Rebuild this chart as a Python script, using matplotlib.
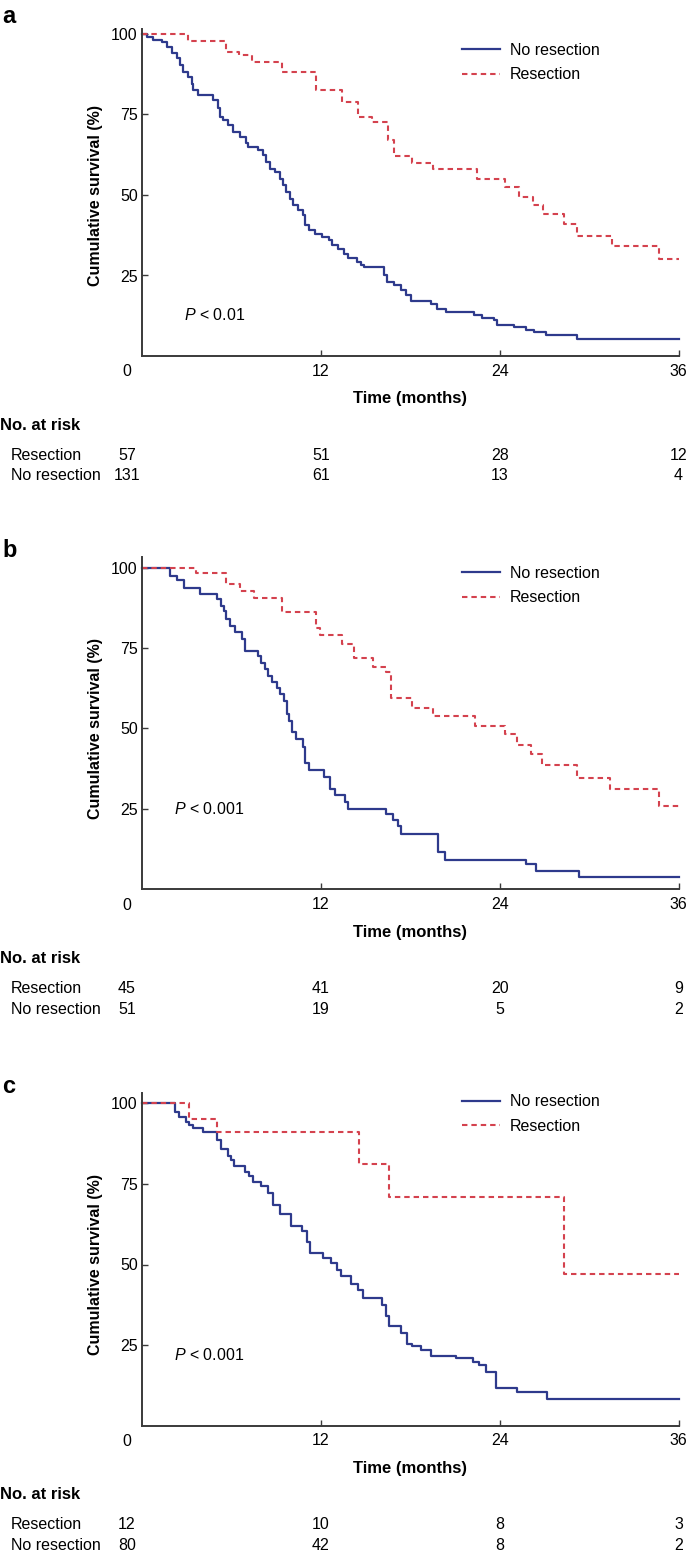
import matplotlib
matplotlib.use("Agg")
import matplotlib.pyplot as plt

plt.rcParams['font.family'] = ['Liberation Sans', 'DejaVu Sans']
plt.rcParams['mathtext.fontset'] = 'custom'
plt.rcParams['mathtext.it'] = 'Liberation Sans:italic'
plt.rcParams['mathtext.rm'] = 'Liberation Sans'

BLUE = '#2E3A8C'
RED = '#D4424E'
AXC = '#3a3a3a'

risk_times = [0, 12, 24, 36]

# --- panel a (all patients) ---
a_no_t = [0, 0.31, 0.76, 1.32, 1.65, 1.99, 2.32, 2.54, 2.77, 3.10, 3.33, 3.44, 3.77, 4.78, 5.11,
          5.22, 5.45, 5.78, 6.12, 6.56, 7.01, 7.12, 7.79, 8.13, 8.35, 8.57, 8.91, 9.24, 9.46, 9.69,
          9.91, 10.13, 10.47, 10.80, 10.95, 11.2, 11.6, 12.11, 12.56, 12.78, 13.12, 13.56, 13.79,
          14.46, 14.68, 14.91, 16.25, 16.47, 16.91, 17.36, 17.70, 18.03, 19.37, 19.82, 20.38,
          22.28, 22.84, 23.62, 23.84, 24.96, 25.75, 26.30, 27.09, 29.21]
a_no_s = [100, 99.0, 98.1, 97.6, 96.1, 94.0, 92.4, 90.4, 88.3, 86.7, 84.6, 82.6, 81.0, 79.5, 76.9,
          74.3, 73.2, 71.7, 69.6, 68.0, 66.0, 64.9, 63.9, 62.3, 60.3, 58.2, 57.2, 55.1, 53.0, 50.9,
          48.9, 46.8, 45.2, 43.7, 40.6, 39.0, 38.0, 37.0, 35.9, 34.4, 33.1, 31.8, 30.3,
          29.2, 28.2, 27.5, 25.1, 23.0, 22.0, 20.4, 18.9, 17.1, 16.1, 14.7, 13.7,
          12.7, 11.9, 11.3, 9.5, 9.0, 8.2, 7.5, 6.5, 5.4]
a_res_t = [0, 3.06, 5.65, 6.52, 7.41, 9.41, 11.65, 13.41, 14.47, 15.41, 16.5, 16.9, 18.12, 19.53,
           22.47, 24.35, 25.29, 26.24, 26.94, 28.35, 29.18, 31.53, 34.71]
a_res_s = [100, 97.9, 94.5, 93.5, 91.2, 88.1, 82.6, 78.9, 74.3, 72.7, 67.0, 62.0, 60.0, 58.1,
           55.1, 52.5, 49.4, 46.8, 44.0, 40.9, 37.4, 34.2, 30.1]
a_risk_res = [57, 51, 28, 12]
a_risk_no = [131, 61, 13, 4]

# --- panel b ---
b_no_t = [0, 1.88, 2.35, 2.82, 3.88, 5.06, 5.29, 5.48, 5.65, 5.88, 6.24, 6.71, 6.94, 7.76, 8.00,
          8.24, 8.47, 8.71, 9.06, 9.29, 9.53, 9.72, 9.88, 10.05, 10.35, 10.82, 10.94, 11.18, 12.24,
          12.59, 12.94, 13.65, 13.81, 16.35, 16.82, 17.18, 17.41, 19.88, 20.35, 25.76, 26.47, 29.29]
b_no_s = [100, 97.4, 96.1, 93.8, 91.9, 90.2, 88.1, 86.5, 84.0, 81.9, 79.9, 77.7, 74.1, 72.6, 70.5,
          68.4, 66.4, 64.3, 62.7, 60.6, 58.6, 54.5, 52.4, 48.8, 46.7, 44.1, 39.2, 37.1, 34.8,
          31.2, 29.2, 27.1, 25.0, 23.5, 21.6, 19.8, 17.2, 11.5, 9.1, 7.9, 5.6, 3.7]
b_res_t = [0, 3.65, 5.65, 6.59, 7.53, 9.41, 11.65, 11.93, 13.41, 14.24, 15.53, 16.35, 16.7, 18.12,
           19.53, 22.35, 24.35, 25.18, 26.12, 26.82, 29.18, 31.41, 34.66]
b_res_s = [100, 98.2, 94.8, 92.8, 90.7, 86.2, 81.2, 79.1, 76.2, 71.8, 69.2, 67.4, 59.4, 56.5,
           53.9, 50.8, 48.2, 44.9, 42.0, 38.7, 34.6, 31.2, 25.8]
b_risk_res = [45, 41, 20, 9]
b_risk_no = [51, 19, 5, 2]

# --- panel c ---
c_no_t = [0, 2.24, 2.47, 2.94, 3.18, 3.41, 4.12, 5.06, 5.29, 5.76, 6.00, 6.19, 6.94, 7.18, 7.46,
          8.00, 8.47, 8.82, 9.29, 10.00, 10.71, 11.06, 11.29, 12.12, 12.71, 13.06, 13.34, 14.00,
          14.47, 14.82, 16.12, 16.35, 16.59, 17.41, 17.76, 18.12, 18.71, 19.41, 21.06, 22.24,
          22.59, 23.06, 23.76, 25.18, 27.18]
c_no_s = [100, 97.4, 95.9, 94.3, 93.3, 92.3, 91.0, 88.6, 85.7, 83.5, 82.4, 80.4, 78.8, 77.3, 75.7,
          74.4, 72.1, 68.5, 65.7, 62.0, 60.5, 57.1, 53.5, 52.0, 50.4, 48.3, 46.3, 44.0,
          42.1, 39.6, 37.5, 33.9, 30.8, 28.7, 25.4, 24.6, 23.6, 21.7, 21.0, 19.9,
          18.9, 16.8, 11.7, 10.3, 8.4]
c_res_t = [0, 3.18, 5.06, 14.59, 16.59, 28.35]
c_res_s = [100, 95.1, 91.0, 81.1, 70.8, 47.0]
c_risk_res = [12, 10, 8, 3]
c_risk_no = [80, 42, 8, 2]

panels = [
    dict(letter='a', no_t=a_no_t, no_s=a_no_s, res_t=a_res_t, res_s=a_res_s,
         risk_res=a_risk_res, risk_no=a_risk_no, p='0.01', p_xy=(2.82, 12.6),
         zero=356.0, ppp=3.22, ytop=101.5, leg_y=0.959, let_y=23),
    dict(letter='b', no_t=b_no_t, no_s=b_no_s, res_t=b_res_t, res_s=b_res_s,
         risk_res=b_risk_res, risk_no=b_risk_no, p='0.001', p_xy=(2.12, 24.9),
         zero=889.3, ppp=3.217, ytop=103.3, leg_y=0.9735, let_y=557),
    dict(letter='c', no_t=c_no_t, no_s=c_no_s, res_t=c_res_t, res_s=c_res_s,
         risk_res=c_risk_res, risk_no=c_risk_no, p='0.001', p_xy=(2.12, 22.0),
         zero=1425.7, ppp=3.224, ytop=103.2, leg_y=0.9958, let_y=1093),
]

W, H = 688, 1556
fig = plt.figure(figsize=(W / 100, H / 100), dpi=100)
FS = 11.5

for p in panels:
    h = p['ytop'] * p['ppp']
    ax = fig.add_axes([142 / W, 1 - p['zero'] / H, 536.5 / W, h / H])

    ax.step(p['no_t'] + [36], p['no_s'] + [p['no_s'][-1]], where='post',
            color=BLUE, lw=1.6, label='No resection', clip_on=False)
    ax.step(p['res_t'] + [36], p['res_s'] + [p['res_s'][-1]], where='post',
            color=RED, lw=1.5, ls=(0, (2.6, 1.9)), label='Resection', clip_on=False)

    ax.set_xlim(0, 36)
    ax.set_ylim(0, p['ytop'])
    for s in ['top', 'right']:
        ax.spines[s].set_visible(False)
    for s in ['left', 'bottom']:
        ax.spines[s].set_color(AXC)
        ax.spines[s].set_linewidth(1.4)
    ax.set_xticks([12, 24, 36])
    ax.set_yticks([25, 50, 75, 100])
    ax.tick_params(direction='in', length=4.5, width=1.0, color=AXC, labelsize=FS)
    ax.tick_params(axis='x', pad=5.4)
    ax.tick_params(axis='y', pad=3)
    ax.annotate('0', xy=(0, 0), xycoords='data', xytext=(-15, -16),
                textcoords='offset pixels', ha='center', va='center', fontsize=FS)

    ax.set_ylabel('Cumulative survival (%)', fontsize=FS, fontweight='bold')
    ax.yaxis.set_label_coords(-0.0727, 50 / p['ytop'])

    ax.annotate('Time (months)', xy=(0.5, 0), xycoords='axes fraction', xytext=(0, -43),
                textcoords='offset pixels', ha='center', va='center', fontsize=12,
                fontweight='bold')

    ax.text(p['p_xy'][0], p['p_xy'][1], r'$\mathit{P}$ < ' + p['p'], fontsize=FS,
            ha='left', va='center')

    ax.legend(frameon=False, loc='upper left', bbox_to_anchor=(0.5965, p['leg_y']),
              borderpad=0, borderaxespad=0, handlelength=2.4, handletextpad=0.6,
              labelspacing=0.6, fontsize=FS)

    # number at risk table
    ax.annotate('No. at risk', xy=(0, 0), xycoords=('figure pixels', 'axes fraction'),
                xytext=(0, -69), textcoords='offset pixels', ha='left', va='center',
                fontsize=12, fontweight='bold')
    for label, vals, dy in [('Resection', p['risk_res'], -99), ('No resection', p['risk_no'], -120)]:
        ax.annotate(label, xy=(11, 0), xycoords=('figure pixels', 'axes fraction'),
                    xytext=(0, dy), textcoords='offset pixels', ha='left', va='center', fontsize=FS)
        for t, n in zip(risk_times, vals):
            dx = -15 if t == 0 else 0
            ax.annotate(str(n), xy=(t, 0), xycoords=('data', 'axes fraction'),
                        xytext=(dx, dy), textcoords='offset pixels', ha='center', va='center',
                        fontsize=FS)

    fig.text(2 / W, 1 - p['let_y'] / H, p['letter'], fontsize=17, fontweight='bold',
             ha='left', va='baseline')

fig.savefig('out.png', dpi=100)
